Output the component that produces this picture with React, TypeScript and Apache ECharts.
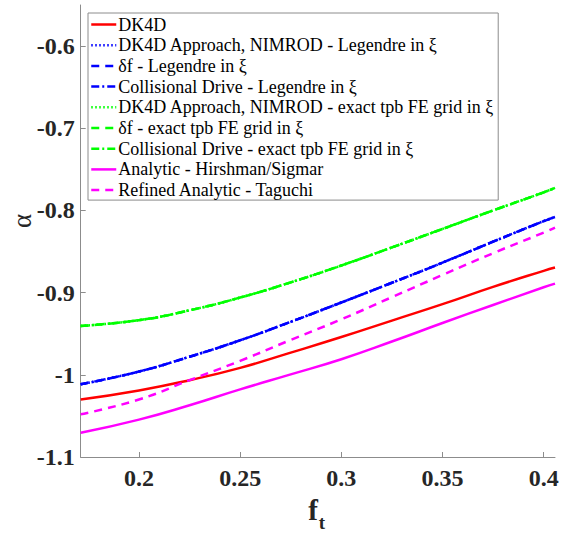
import React, { useEffect, useRef } from "react";
import * as echarts from "echarts";

// trapped-particle fraction f_t
const ft = [0.1712, 0.2, 0.225, 0.25, 0.275, 0.3, 0.325, 0.35, 0.375, 0.4, 0.4056];

// alpha(f_t) for each model
const dk4d = [-1.03, -1.019, -1.0065, -0.9915, -0.973, -0.954, -0.934, -0.914, -0.893, -0.8735, -0.8695];
const legendreXi = [-1.0115, -0.996, -0.978, -0.958, -0.9355, -0.912, -0.888, -0.8635, -0.838, -0.813, -0.808];
const feGridXi = [-0.9405, -0.9335, -0.9215, -0.906, -0.8875, -0.867, -0.845, -0.8225, -0.8, -0.778, -0.7725];
const hirshmanSigmar = [-1.0705, -1.0545, -1.037, -1.0177, -0.9995, -0.981, -0.9595, -0.937, -0.915, -0.8935, -0.889];
const taguchi = [-1.048, -1.03, -1.0065, -0.983, -0.9575, -0.9325, -0.9055, -0.8785, -0.852, -0.827, -0.821];

const xTicks = [0.2, 0.25, 0.3, 0.35, 0.4];
const yTicks = [-1.1, -1, -0.9, -0.8, -0.7, -0.6];

const RED = "#ff0000";
const BLUE = "#0000ff";
const GREEN = "#00ff00";
const MAGENTA = "#ff00ff";

const FONT = "'Liberation Serif', 'Times New Roman', serif";

type Spec = { name: string; values: number[]; color: string; type: any };

const seriesSpecs: Spec[] = [
  { name: "DK4D", values: dk4d, color: RED, type: "solid" },
  { name: "DK4D Approach, NIMROD - Legendre in ξ", values: legendreXi, color: BLUE, type: [1.5, 2.5] },
  { name: "δf - Legendre in ξ", values: legendreXi, color: BLUE, type: [8, 6] },
  { name: "Collisional Drive - Legendre in ξ", values: legendreXi, color: BLUE, type: [8, 3, 2, 3] },
  { name: "DK4D Approach, NIMROD - exact tpb FE grid in ξ", values: feGridXi, color: GREEN, type: [1.5, 2.5] },
  { name: "δf - exact tpb FE grid in ξ", values: feGridXi, color: GREEN, type: [8, 6] },
  { name: "Collisional Drive - exact tpb FE grid in ξ", values: feGridXi, color: GREEN, type: [8, 3, 2, 3] },
  { name: "Analytic - Hirshman/Sigmar", values: hirshmanSigmar, color: MAGENTA, type: "solid" },
  { name: "Refined Analytic - Taguchi", values: taguchi, color: MAGENTA, type: [8, 6] },
];

const fmt = (v: number) => String(Number(Number(v).toFixed(2)));

export default function App() {
  const ref = useRef<HTMLDivElement>(null);

  useEffect(() => {
    if (!ref.current) return;
    const chart = echarts.init(ref.current, undefined, { renderer: "svg" });

    const axisLine = { show: true, lineStyle: { color: "#8c8c8c", width: 1 } };
    const axisTick = { show: true, inside: true, length: 5, lineStyle: { color: "#8c8c8c", width: 1 } };
    const labelStyle = {
      fontFamily: FONT,
      fontWeight: "bold" as const,
      fontSize: 24,
      color: "#262626",
    };

    chart.setOption({
      animation: false,
      backgroundColor: "#ffffff",
      grid: { left: 80.7, right: 8, top: 5, bottom: 76, containLabel: false },
      xAxis: {
        type: "value",
        min: 0.1712,
        max: 0.4056,
        axisLine,
        axisTick: { ...axisTick, customValues: xTicks },
        axisLabel: { ...labelStyle, margin: 9, customValues: xTicks, formatter: fmt },
        splitLine: { show: false },
      },
      yAxis: {
        type: "value",
        min: -1.1,
        max: -0.55,
        axisLine,
        axisTick: { ...axisTick, customValues: yTicks },
        axisLabel: { ...labelStyle, margin: 6, customValues: yTicks, formatter: fmt },
        splitLine: { show: false },
      },
      legend: {
        orient: "vertical",
        left: 88,
        top: 13,
        itemWidth: 25,
        itemHeight: 14,
        itemGap: 0.7,
        padding: [1.5, 4, 0, 2],
        backgroundColor: "#ffffff",
        borderColor: "#8c8c8c",
        borderWidth: 1,
        borderRadius: 0,
        // line-only keys: the marker symbol in the middle of each key is hidden
        itemStyle: { opacity: 0 },
        lineStyle: { width: 2.5 },
        textStyle: { fontFamily: FONT, fontSize: 18, color: "#000000", lineHeight: 20, padding: [0, 0, 0, -3] },
        data: seriesSpecs.map((s) => s.name),
      },
      graphic: [
        {
          type: "text",
          x: 22,
          y: 221,
          rotation: Math.PI / 2,
          style: {
            text: "α",
            fontFamily: FONT,
            fontSize: 27,
            fill: "#262626",
            textAlign: "center",
            textVerticalAlign: "middle",
          },
        },
        {
          type: "text",
          x: 313,
          y: 524,
          style: {
            text: "f",
            fontFamily: FONT,
            fontWeight: "bold",
            fontSize: 29,
            fill: "#262626",
            textAlign: "center",
            textVerticalAlign: "bottom",
          },
        },
        {
          type: "text",
          x: 322,
          y: 532,
          style: {
            text: "t",
            fontFamily: FONT,
            fontWeight: "bold",
            fontSize: 19,
            fill: "#262626",
            textAlign: "center",
            textVerticalAlign: "bottom",
          },
        },
      ],
      series: seriesSpecs.map((s) => ({
        name: s.name,
        type: "line",
        data: ft.map((x, i) => [x, s.values[i]]),
        smooth: 0.5,
        showSymbol: false,
        symbol: "none",
        clip: true,
        lineStyle: { color: s.color, width: 2.5, type: s.type },
        itemStyle: { color: s.color },
      })),
    });

    return () => chart.dispose();
  }, []);

  return (
    <div
      ref={ref}
      style={{ position: "fixed", left: 0, top: 0, width: 563, height: 533, background: "#fff" }}
    />
  );
}
